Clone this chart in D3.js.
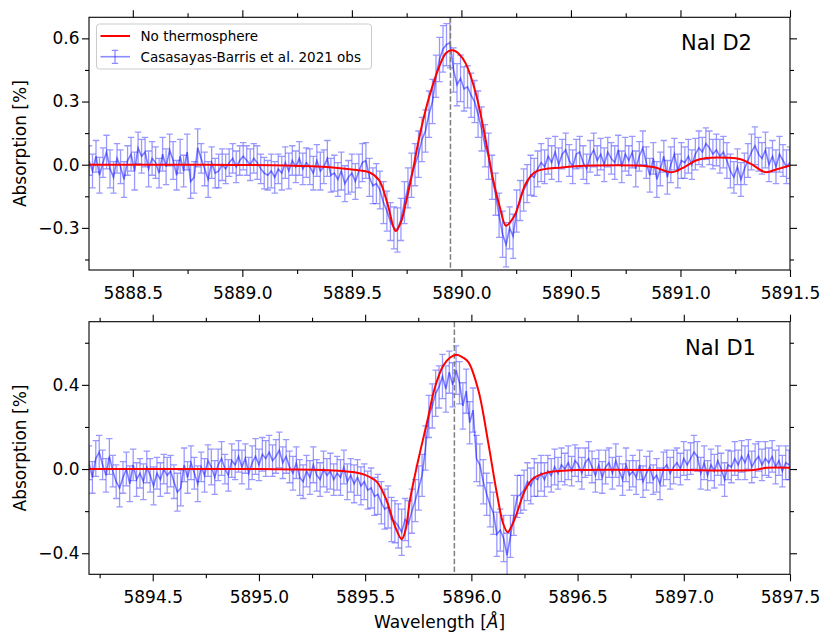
<!DOCTYPE html>
<html>
<head>
<meta charset="utf-8">
<script src="https://cdn.jsdelivr.net/npm/d3@7"></script>
<style>
  body { margin: 0; background: #fff; }
  text { font-family: "DejaVu Sans", sans-serif; }
</style>
</head>
<body>
<script>
// observed spectra, sampled every 0.016 A from the left edge of each panel
const obsStep = 0.016
const d2Start = 5888.30
const d1Start = 5894.20

const d2Obs = [
  0.02,-0.03,0.04,-0.05,0.01,0.06,-0.02,-0.06,0.03,-0.01,
  -0.07,0.02,0.05,-0.03,0.08,0.04,0.06,-0.02,0.03,0.01,
  -0.04,0.05,-0.01,0.07,0.02,-0.05,0.04,-0.03,0.06,-0.08,
  -0.06,0.08,0.03,-0.02,-0.07,0.01,-0.04,-0.03,0.0,-0.02,
  0.01,0.03,-0.01,0.02,0.04,0.02,0.0,0.03,0.01,-0.02,
  -0.04,-0.05,-0.03,-0.06,-0.02,-0.04,0.01,-0.03,0.02,-0.01,
  0.03,-0.02,0.01,-0.01,-0.04,0.02,-0.03,-0.01,0.03,-0.05,
  -0.04,-0.07,-0.03,-0.09,-0.06,-0.04,-0.08,-0.03,0.01,0.02,
  -0.06,-0.1,-0.09,-0.12,-0.18,-0.22,-0.27,-0.3,-0.31,-0.26,
  -0.18,-0.11,-0.05,0.0,0.05,0.12,0.16,0.24,0.3,0.42,
  0.5,0.55,0.57,0.58,0.45,0.38,0.41,0.36,0.37,0.33,
  0.3,0.24,0.17,0.09,0.04,-0.06,-0.14,-0.24,-0.33,-0.38,
  -0.3,-0.34,-0.22,-0.17,-0.12,-0.09,-0.05,-0.06,-0.02,0.01,
  -0.01,0.04,0.01,0.06,0.0,0.05,0.07,0.02,-0.01,0.05,
  0.06,0.01,-0.02,0.04,0.07,0.02,0.05,0.0,0.06,0.03,
  0.01,0.07,-0.01,0.05,0.02,0.06,-0.02,0.04,0.08,0.01,
  -0.05,0.03,-0.07,-0.02,0.04,-0.06,0.0,0.05,-0.03,0.02,
  0.01,0.04,0.0,0.05,0.08,0.06,0.1,0.08,0.05,0.07,
  0.04,0.06,0.02,-0.03,-0.06,-0.01,-0.07,-0.02,0.02,0.06,
  0.09,0.05,0.03,0.07,0.0,0.04,-0.01,0.05,0.02,-0.01,0.01
]
const d2Err = [
  .07,.08,.075,.085,.07,.08,.09,.075,.07,.08,
  .085,.07,.08,.09,.075,.08,.07,.085,.08,.075,
  .07,.08,.085,.075,.09,.07,.08,.075,.085,.08,
  .075,.09,.07,.08,.085,.075,.07,.08,.075,.07,
  .065,.07,.075,.07,.065,.07,.075,.07,.08,.07,
  .075,.07,.08,.075,.07,.08,.075,.085,.07,.075,
  .08,.075,.07,.085,.08,.075,.09,.08,.085,.08,
  .085,.08,.09,.085,.08,.09,.085,.08,.09,.085,
  .09,.085,.095,.09,.1,.095,.09,.1,.105,.1,
  .1,.095,.105,.1,.11,.105,.1,.11,.105,.1,
  .105,.11,.1,.12,.105,.1,.11,.105,.1,.105,
  .1,.11,.105,.1,.11,.105,.1,.105,.11,.105,
  .1,.105,.1,.095,.1,.09,.095,.09,.085,.09,
  .08,.085,.08,.075,.08,.07,.08,.075,.08,.07,
  .075,.08,.07,.075,.08,.07,.075,.08,.07,.075,
  .08,.07,.075,.08,.07,.075,.085,.07,.08,.075,
  .08,.075,.085,.08,.075,.08,.085,.075,.08,.085,
  .075,.08,.07,.075,.08,.07,.075,.08,.07,.075,
  .08,.075,.085,.08,.075,.085,.08,.075,.08,.085,
  .09,.08,.075,.085,.08,.075,.08,.085,.075,.08,.075
]

const d1Obs = [
  0.03,-0.04,0.05,0.08,0.02,-0.03,0.06,-0.01,-0.06,-0.09,
  -0.04,0.0,-0.07,0.02,-0.05,-0.02,-0.06,0.01,-0.03,-0.08,
  -0.02,-0.05,0.0,-0.03,-0.01,-0.06,-0.11,-0.09,0.02,-0.04,
  0.03,-0.02,-0.07,0.01,-0.03,0.04,0.01,-0.04,0.02,0.05,
  0.0,-0.03,0.04,0.02,0.06,0.01,0.05,-0.02,0.03,0.06,
  0.02,0.07,0.05,0.08,0.04,0.06,0.09,0.03,0.06,0.01,
  -0.02,0.03,-0.04,-0.06,-0.01,-0.04,0.02,-0.03,-0.05,0.0,
  -0.03,-0.01,-0.05,-0.02,-0.04,0.01,-0.06,-0.03,-0.07,-0.04,
  -0.08,-0.06,-0.1,-0.09,-0.13,-0.12,-0.16,-0.19,-0.18,-0.24,
  -0.25,-0.27,-0.3,-0.24,-0.26,-0.2,-0.15,-0.09,-0.03,0.1,
  0.25,0.3,0.36,0.39,0.44,0.38,0.46,0.4,0.47,0.41,
  0.3,0.37,0.22,0.28,0.05,0.02,-0.06,-0.12,-0.17,-0.21,
  -0.31,-0.29,-0.33,-0.41,-0.32,-0.22,-0.13,-0.12,-0.1,-0.06,
  -0.08,-0.04,-0.05,-0.02,-0.05,-0.01,-0.03,0.01,-0.02,0.02,
  0.0,0.03,-0.01,0.04,0.02,-0.02,0.03,0.05,0.01,-0.03,
  0.02,-0.04,0.01,0.03,-0.02,0.04,-0.01,-0.05,0.02,-0.03,
  -0.01,-0.04,0.02,-0.06,-0.02,0.01,-0.05,-0.03,-0.07,0.0,
  0.02,-0.02,0.01,0.03,0.0,0.05,0.02,0.05,0.08,0.06,
  -0.02,0.03,-0.03,0.02,-0.01,0.04,0.0,-0.05,0.02,0.01,
  0.05,0.02,0.06,0.03,0.07,0.01,0.04,0.06,0.02,0.05,
  0.03,0.06,0.01,0.04,-0.01,0.03,0.02
]
const d1Err = [
  .08,.075,.085,.08,.07,.08,.085,.075,.08,.09,
  .075,.08,.085,.075,.08,.07,.085,.075,.08,.09,
  .075,.08,.07,.085,.075,.08,.09,.085,.08,.075,
  .08,.075,.085,.07,.08,.075,.085,.08,.075,.08,
  .07,.075,.08,.07,.075,.08,.07,.075,.08,.085,
  .075,.08,.085,.08,.075,.08,.085,.075,.08,.075,
  .08,.075,.085,.08,.075,.08,.085,.075,.08,.085,
  .08,.085,.075,.08,.085,.08,.085,.08,.09,.085,
  .09,.085,.09,.095,.09,.095,.1,.095,.1,.105,
  .1,.105,.11,.1,.11,.105,.1,.105,.1,.105,
  .1,.105,.11,.1,.105,.11,.1,.105,.115,.1,
  .11,.105,.1,.105,.11,.1,.105,.1,.105,.1,
  .105,.1,.11,.105,.1,.095,.1,.09,.095,.09,
  .085,.09,.08,.085,.08,.075,.08,.085,.075,.08,
  .075,.08,.07,.075,.08,.075,.07,.08,.075,.08,
  .07,.075,.08,.07,.075,.08,.07,.075,.08,.07,
  .075,.08,.07,.075,.08,.075,.07,.08,.075,.08,
  .07,.075,.08,.07,.075,.08,.07,.075,.08,.07,
  .075,.08,.07,.075,.08,.07,.075,.08,.07,.075,
  .08,.07,.075,.08,.07,.075,.08,.07,.075,.08,
  .07,.075,.08,.07,.075,.08,.07
]

// "No thermosphere" model
const d2ModelWl = [5888.30,5888.80,5889.20,5889.40,5889.52,5889.578,5889.624,5889.662,5889.70,5889.725,
  5889.746,5889.776,5889.799,5889.825,5889.853,5889.898,5889.93,5889.959,5889.99,5890.02,
  5890.066,5890.111,5890.142,5890.175,5890.203,5890.225,5890.248,5890.294,5890.34,5890.461,
  5890.60,5890.80,5890.88,5890.96,5891.02,5891.07,5891.12,5891.22,5891.27,5891.32,
  5891.387,5891.44,5891.50]
const d2Model = [0,0,-0.004,-0.012,-0.025,-0.035,-0.073,-0.183,-0.315,-0.27,
  -0.183,-0.04,0.085,0.21,0.322,0.464,0.53,0.543,0.525,0.48,
  0.338,0.117,-0.057,-0.2,-0.29,-0.27,-0.23,-0.089,-0.033,-0.013,
  -0.004,-0.004,-0.012,-0.036,-0.01,0.02,0.032,0.033,0.027,0.005,
  -0.035,-0.022,-0.004]

const d1ModelWl = [5894.20,5895.00,5895.30,5895.45,5895.50,5895.554,5895.60,5895.641,5895.672,5895.69,
  5895.711,5895.75,5895.79,5895.829,5895.868,5895.90,5895.931,5895.96,5895.986,5896.033,
  5896.08,5896.12,5896.15,5896.171,5896.19,5896.214,5896.253,5896.292,5896.355,5896.496,
  5897.00,5897.33,5897.39,5897.50]
const d1Model = [0,0,-0.004,-0.015,-0.028,-0.06,-0.147,-0.273,-0.333,-0.29,
  -0.147,0.043,0.216,0.39,0.492,0.53,0.543,0.53,0.508,0.374,
  0.122,-0.115,-0.26,-0.30,-0.27,-0.21,-0.1,-0.044,-0.017,-0.005,
  -0.005,-0.005,0.006,0.006]

// axes ticks
const d2XTicks = [5888.5,5889.0,5889.5,5890.0,5890.5,5891.0,5891.5]
const d2XMinor = [5888.75,5889.25,5889.75,5890.25,5890.75,5891.25]
const d2YTicks = [-0.3,0.0,0.3,0.6]
const d2YMinor = [-0.45,-0.15,0.15,0.45]
const d1XTicks = [5894.5,5895.0,5895.5,5896.0,5896.5,5897.0,5897.5]
const d1XMinor = [5894.25,5894.75,5895.25,5895.75,5896.25,5896.75,5897.25]
const d1YTicks = [-0.4,0.0,0.4]
const d1YMinor = [-0.2,0.2,0.6]

const lineCenters = { d2: 5889.95, d1: 5895.92 }

const W = 830, H = 641
const left = 89, right = 790

const svg = d3.select("body").append("svg")
  .attr("width", W).attr("height", H)

function drawPanel(p) {
  let x = d3.scaleLinear().domain(p.xDomain).range([left, right])
  let y = d3.scaleLinear().domain([-0.5, 0.7]).range([p.bottom, p.top])
  let g = svg.append("g")

  svg.append("clipPath").attr("id", "clip-" + p.name)
    .append("rect")
    .attr("x", left).attr("y", p.top)
    .attr("width", right - left).attr("height", p.bottom - p.top)

  let plot = g.append("g").attr("clip-path", `url(#clip-${p.name})`)

  let pts = p.obs.map((v, i) => ({ w: p.start + i * obsStep, v: v, e: p.err[i] ?? 0.08 }))

  // error bars with caps
  plot.append("g")
    .attr("stroke", "blue").attr("stroke-opacity", 0.4).attr("stroke-width", 1.3)
    .attr("fill", "none")
    .selectAll("path")
    .data(pts)
    .enter()
    .append("path")
    .attr("d", d => {
      let X = x(d.w), y0 = y(d.v - d.e), y1 = y(d.v + d.e)
      return `M${X},${y0}V${y1}M${X - 3.2},${y0}H${X + 3.2}M${X - 3.2},${y1}H${X + 3.2}`
    })

  plot.append("path")
    .datum(pts)
    .attr("fill", "none")
    .attr("stroke", "blue").attr("stroke-opacity", 0.5).attr("stroke-width", 1.6)
    .attr("d", d3.line().x(d => x(d.w)).y(d => y(d.v)))

  // line centre
  plot.append("line")
    .attr("x1", x(p.center)).attr("x2", x(p.center))
    .attr("y1", p.top).attr("y2", p.bottom)
    .attr("stroke", "#7f7f7f").attr("stroke-width", 1.5)
    .attr("stroke-dasharray", "5.5,2.4")

  let model = p.modelWl.map((w, i) => [w, p.model[i]])
  plot.append("path")
    .datum(model)
    .attr("fill", "none")
    .attr("stroke", "red").attr("stroke-width", 2)
    .attr("d", d3.line().x(d => x(d[0])).y(d => y(d[1])).curve(d3.curveCatmullRom.alpha(0.5)))

  // ticks on all four sides, labels left and bottom
  let fmt = d3.format(".1f")
  let axes = [
    [d3.axisBottom(x).tickValues(p.xTicks).tickSize(7).tickPadding(10).tickFormat(fmt), `translate(0,${p.bottom})`],
    [d3.axisBottom(x).tickValues(p.xMinor).tickSize(4).tickFormat(""), `translate(0,${p.bottom})`],
    [d3.axisTop(x).tickValues(p.xTicks).tickSize(7).tickFormat(""), `translate(0,${p.top})`],
    [d3.axisTop(x).tickValues(p.xMinor).tickSize(4).tickFormat(""), `translate(0,${p.top})`],
    [d3.axisLeft(y).tickValues(p.yTicks).tickSize(7).tickPadding(2.5).tickFormat(fmt), `translate(${left},0)`],
    [d3.axisLeft(y).tickValues(p.yMinor).tickSize(4).tickFormat(""), `translate(${left},0)`],
    [d3.axisRight(y).tickValues(p.yTicks).tickSize(7).tickFormat(""), `translate(${right},0)`],
    [d3.axisRight(y).tickValues(p.yMinor).tickSize(4).tickFormat(""), `translate(${right},0)`]
  ]
  axes.forEach(([ax, tr]) => {
    let a = g.append("g").attr("transform", tr).call(ax)
    a.select(".domain").remove()
    a.selectAll("line").attr("stroke", "#000").attr("stroke-width", 1.1)
    a.selectAll("text").attr("font-size", 17).attr("fill", "#000")
      .attr("font-family", "DejaVu Sans")
  })

  g.append("rect")
    .attr("x", left).attr("y", p.top)
    .attr("width", right - left).attr("height", p.bottom - p.top)
    .attr("fill", "none").attr("stroke", "#000").attr("stroke-width", 1.1)

  g.append("text")
    .attr("transform", `translate(26,${(p.top + p.bottom) / 2}) rotate(-90)`)
    .attr("text-anchor", "middle")
    .attr("font-size", 17)
    .text("Absorption [%]")

  g.append("text")
    .attr("x", p.labelX).attr("y", p.top + 33)
    .attr("font-size", 21)
    .text(p.label)
}

drawPanel({
  name: "d2", label: "NaI D2", labelX: 681,
  xDomain: [5888.3, 5891.5], top: 17.3, bottom: 270,
  start: d2Start, obs: d2Obs, err: d2Err,
  modelWl: d2ModelWl, model: d2Model, center: lineCenters.d2,
  xTicks: d2XTicks, xMinor: d2XMinor, yTicks: d2YTicks, yMinor: d2YMinor
})

drawPanel({
  name: "d1", label: "NaI D1", labelX: 685,
  xDomain: [5894.2, 5897.5], top: 321.7, bottom: 574.3,
  start: d1Start, obs: d1Obs, err: d1Err,
  modelWl: d1ModelWl, model: d1Model, center: lineCenters.d1,
  xTicks: d1XTicks, xMinor: d1XMinor, yTicks: d1YTicks, yMinor: d1YMinor
})

// x label
let xl = svg.append("text")
  .attr("x", (left + right) / 2).attr("y", 627.5)
  .attr("text-anchor", "middle").attr("font-size", 17)
xl.append("tspan").text("Wavelength [")
xl.append("tspan").attr("font-style", "italic").text("Å")
xl.append("tspan").text("]")

// legend
let legend = svg.append("g")
legend.append("rect")
  .attr("x", 96.5).attr("y", 24).attr("width", 275).attr("height", 45)
  .attr("rx", 3).attr("fill", "#fff").attr("fill-opacity", 0.8)
  .attr("stroke", "#cccccc").attr("stroke-width", 1)
legend.append("line")
  .attr("x1", 100.5).attr("x2", 130).attr("y1", 36).attr("y2", 36)
  .attr("stroke", "red").attr("stroke-width", 2)
legend.append("text")
  .attr("x", 140.5).attr("y", 40.7).attr("font-size", 13.5)
  .text("No thermosphere")
let lg = legend.append("g").attr("stroke", "blue").attr("stroke-opacity", 0.45).attr("fill", "none")
lg.append("path").attr("d", "M100.5,56.7H130").attr("stroke-width", 1.6)
lg.append("path").attr("d", "M115,50.3V63.3M111.8,50.3H118.2M111.8,63.3H118.2").attr("stroke-width", 1.3)
legend.append("text")
  .attr("x", 140.5).attr("y", 61.5).attr("font-size", 13.5)
  .text("Casasayas-Barris et al. 2021 obs")
</script>
</body>
</html>
